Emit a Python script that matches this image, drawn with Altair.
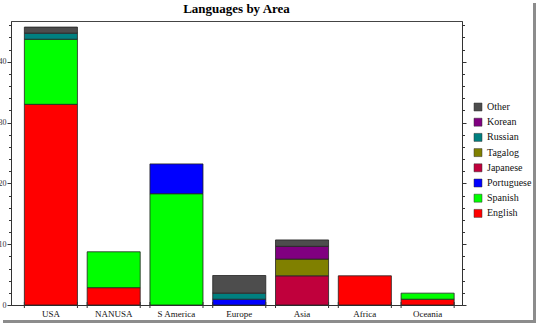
import altair as alt
import pandas as pd

areas = ["USA", "NANUSA", "S America", "Europe", "Asia", "Africa", "Oceania"]
languages = ["English", "Spanish", "Portuguese", "Japanese", "Tagalog", "Russian", "Korean", "Other"]
colors = ["#FF0000", "#00FF00", "#0000FF", "#C0003C", "#808000", "#008080", "#800080", "#4D4D4D"]

english    = [33.0, 2.85, 0.0, 0.0, 0.0, 4.8, 0.95]
spanish    = [10.7, 5.9, 18.3, 0.0, 0.0, 0.0, 1.0]
portuguese = [0.0, 0.0, 4.9, 0.95, 0.0, 0.0, 0.0]
japanese   = [0.0, 0.0, 0.0, 0.0, 4.8, 0.0, 0.0]
tagalog    = [0.0, 0.0, 0.0, 0.0, 2.75, 0.0, 0.0]
russian    = [1.0, 0.0, 0.0, 1.0, 0.0, 0.0, 0.0]
korean     = [0.0, 0.0, 0.0, 0.0, 2.1, 0.0, 0.0]
other      = [1.0, 0.0, 0.0, 2.9, 1.05, 0.0, 0.0]

series = [english, spanish, portuguese, japanese, tagalog, russian, korean, other]
rows = []
for rank, (lang, vals) in enumerate(zip(languages, series)):
    for area, v in zip(areas, vals):
        if v > 0:
            rows.append({"area": area, "language": lang, "value": v, "rank": rank})
df = pd.DataFrame(rows)
cats = pd.DataFrame({"area": areas})
one = pd.DataFrame({"k": [0]})

legend_order = languages[::-1]
legend_colors = colors[::-1]

W, H = 451, 284
serif = "Liberation Serif"

xscale = alt.Scale(paddingInner=0.155, paddingOuter=0.169, align=0.63)
yscale = alt.Scale(domain=[0, 46.7], nice=False, zero=True)
yvals = list(range(0, 47, 2))
tick_cond = {"condition": {"test": "datum.value % 10 === 0", "value": 4}, "value": 2.5}

bars = alt.Chart(df).mark_bar(stroke="#222222", strokeWidth=0.8).encode(
    x=alt.X("area:N", sort=areas, scale=xscale,
            axis=alt.Axis(title=None, labelAngle=0, labelFont=serif, labelFontSize=9,
                          labelColor="#111111", ticks=False, domainColor="#333333",
                          labelPadding=4)),
    y=alt.Y("value:Q", stack="zero", scale=yscale,
            axis=alt.Axis(title=None, values=yvals, grid=False,
                          labelExpr="datum.value % 10 === 0 ? datum.label : ''",
                          tickSize=tick_cond, tickColor="#333333", domainColor="#333333",
                          labelFont=serif, labelFontSize=8, labelColor="#333333",
                          labelPadding=1)),
    color=alt.Color("language:N", scale=alt.Scale(domain=legend_order, range=legend_colors),
                    legend=alt.Legend(title=None, orient="none", legendX=462, legendY=81,
                                      symbolType="square", symbolSize=64,
                                      symbolStrokeColor="#333333", symbolStrokeWidth=0.5,
                                      labelFont=serif, labelFontSize=10, labelColor="#111111",
                                      rowPadding=5.2, labelOffset=4, padding=0)),
    order=alt.Order("rank:Q", sort="ascending"),
)

right_axis = alt.Chart(df).mark_bar(opacity=0).encode(
    x=alt.X("area:N", sort=areas, scale=xscale),
    y=alt.Y("value:Q", stack="zero", scale=yscale,
            axis=alt.Axis(title=None, orient="right", values=yvals, grid=False, labels=False,
                          tickSize=tick_cond, tickColor="#333333", domainColor="#333333")),
)

ticks_left = alt.Chart(cats).mark_rule(color="#333333", strokeWidth=1).encode(
    x=alt.X("area:N", sort=areas, scale=xscale, bandPosition=0),
    y=alt.value(H - 3), y2=alt.value(H + 3),
)
ticks_right = alt.Chart(cats).mark_rule(color="#333333", strokeWidth=1).encode(
    x=alt.X("area:N", sort=areas, scale=xscale, bandPosition=1),
    y=alt.value(H - 3), y2=alt.value(H + 3),
)

# page drop shadow (right and bottom edges of the picture)
shadow_right = alt.Chart(one).mark_rule(color="#8c8c8c", strokeWidth=3).encode(
    x=alt.value(523.5), y=alt.value(-18), y2=alt.value(302),
)
shadow_bottom = alt.Chart(one).mark_rule(color="#8c8c8c", strokeWidth=3).encode(
    x=alt.value(-8), x2=alt.value(525), y=alt.value(300.5),
)

chart = alt.layer(bars, ticks_left, ticks_right, right_axis, shadow_right, shadow_bottom).resolve_axis(
    y="independent"
).resolve_scale(y="shared").properties(
    width=W, height=H,
    title=alt.TitleParams("Languages by Area", font=serif, fontSize=13, fontWeight="bold",
                          color="#000000", anchor="middle", offset=-14.5, frame="group"),
    autosize=alt.AutoSizeParams(type="none"),
    padding={"left": 11, "top": 21, "right": 75, "bottom": 19},
    background="white",
).configure_view(stroke="#444444", strokeWidth=1)

chart.save("out.html", embed_options={"renderer": "svg", "actions": False})
